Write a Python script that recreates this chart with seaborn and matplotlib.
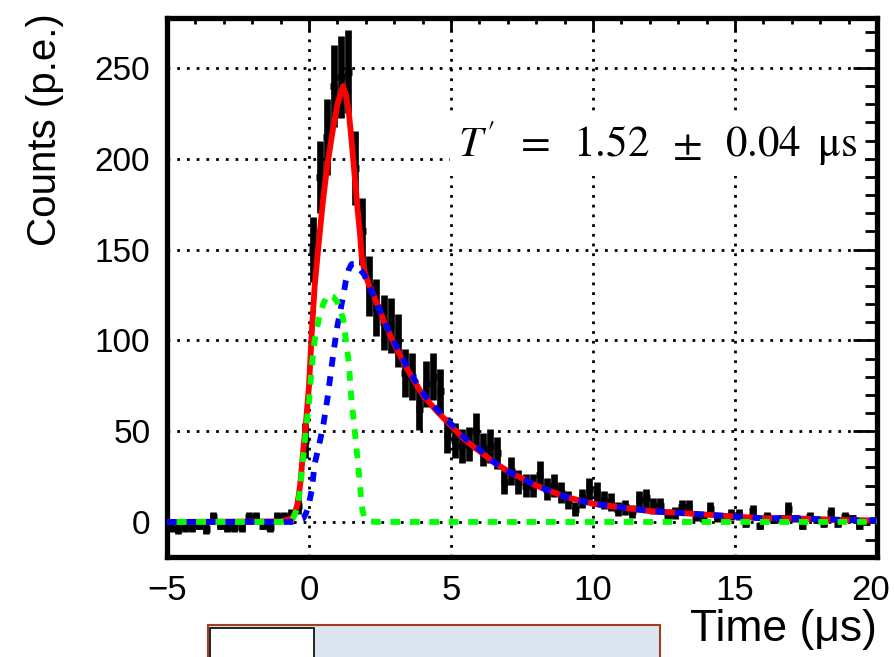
import numpy as np
import pandas as pd
import matplotlib
matplotlib.use("Agg")
import matplotlib.pyplot as plt
import seaborn as sns
from matplotlib.ticker import MultipleLocator
from matplotlib.patches import Rectangle
from matplotlib.transforms import ScaledTranslation

# ---------------- data ----------------
bin_start = -5.0
bin_width = 0.25
counts = [
    -3, -4, -3, -3, -2, -4, 3, -2, -3, -3,
    -3, 3, 3, -2, -3, 3, 3, 4, 9, 45,
    150, 190, 212, 240, 245, 248, 195, 160, 130, 118,
    110, 108, 100, 82, 80, 62, 76, 80, 72, 48,
    45, 42, 43, 50, 40, 42, 38, 22, 28, 22,
    20, 20, 26, 18, 20, 16, 12, 7, 13, 18,
    16, 12, 11, 7, 8, 6, 12, 13, 9, 9,
    4, 5, 8, 8, 3, 2, 7, 2, 1, 4,
    4, -1, 6, -2, 3, 1, 2, 7, 2, -2,
    3, 1, -1, 5, -1, 3, 2, -2, 0, 1,
]

fit_t = [-5, -1.0, -0.6, -0.5, -0.4, -0.3, -0.2, -0.1, 0.0, 0.1, 0.2, 0.35, 0.5,
         0.65, 0.85, 1.0, 1.2, 1.3, 1.4, 1.5, 1.6, 1.7, 1.8, 1.85, 1.95, 2.1, 2.35,
         2.6, 3.0, 3.5, 4.0, 4.5, 5.0, 5.5, 6.0, 6.5, 7.0, 7.5, 8.0, 8.5, 9.0, 9.5,
         10, 11, 12, 13, 14, 15, 16, 17, 18, 19, 20]
fit_total = [0, 0.3, 2, 5, 10, 22, 40, 56, 75, 105, 130, 155, 178,
             197, 217, 230, 240, 235, 226, 210, 192, 174, 158, 147, 138, 131, 122,
             112, 98, 83, 70, 61, 53, 45, 39, 33, 28, 24, 20, 17, 14, 12,
             10, 8, 6, 5, 4, 3, 2, 2, 1.5, 1, 0.8]
fit_slow = [0, 0, 0, 0.5, 1, 1.5, 2, 5, 10, 18, 32, 42, 53,
            68, 92, 108, 124, 133, 139, 142, 142, 141, 139, 138, 136, 130, 122,
            112, 99, 84, 71, 62, 54, 46, 40, 33, 28, 24, 20, 17, 14, 12,
            10, 8, 6, 5, 4, 3, 2, 2, 1.5, 1, 0.8]
fit_fast = [0, 0, 1, 4, 8, 20, 36, 52, 66, 86, 100, 112, 120,
            125, 124, 121, 112, 100, 88, 66, 52, 36, 20, 9, 2, 0.5, 0,
            0, 0, 0, 0, 0, 0, 0, 0, 0, 0, 0, 0, 0, 0, 0,
            0, 0, 0, 0, 0, 0, 0, 0, 0, 0, 0]

x_ticks = [-5, 0, 5, 10, 15, 20]
y_ticks = [0, 50, 100, 150, 200, 250]
annotation = r"$T'\;\;=\;\;1.52\;\;\pm\;\;0.04\;\;\mathrm{μs}$"

# ---------------- build tables ----------------
counts = np.asarray(counts, dtype=float)
centers = bin_start + bin_width * (np.arange(len(counts)) + 0.5)
errors = 1.45 * np.sqrt(np.clip(np.abs(counts), 1.0, None))
fits = pd.DataFrame({"t": fit_t, "total": fit_total, "slow": fit_slow, "fast": fit_fast})

# ---------------- style ----------------
sns.set_theme(style="white")
plt.rcParams["font.family"] = ["Liberation Sans", "DejaVu Sans"]
plt.rcParams["mathtext.fontset"] = "stix"
plt.rcParams["lines.scale_dashes"] = False
plt.rcParams["axes.unicode_minus"] = True

fig = plt.figure(figsize=(8.94, 6.57), dpi=100)
ax = fig.add_axes([167 / 894, 1 - 557 / 657, 710 / 894, 539 / 657])

# data histogram with error bars
ax.errorbar(centers, counts, xerr=bin_width / 2, yerr=errors, fmt="none",
            ecolor="black", elinewidth=4.8, capsize=0, zorder=3)

# fit components
sns.lineplot(data=fits, x="t", y="total", ax=ax, color="#ff0000", lw=4.2,
             zorder=4, estimator=None, sort=False)
sns.lineplot(data=fits, x="t", y="slow", ax=ax, color="#0000ff", lw=4.2,
             linestyle=(0, (7, 7)), zorder=5, estimator=None, sort=False)
sns.lineplot(data=fits, x="t", y="fast", ax=ax, color="#00ff00", lw=4.2,
             linestyle=(7, (7, 7)), zorder=6, estimator=None, sort=False)

ax.set_xlim(-5, 20)
ax.set_ylim(-19.3, 277.5)
ax.set_xticks(x_ticks)
ax.set_yticks(y_ticks)
ax.xaxis.set_minor_locator(MultipleLocator(1))
ax.yaxis.set_minor_locator(MultipleLocator(10))

ax.grid(True, which="major", color="black", linestyle=(0, (2, 5)), linewidth=2.0)
ax.set_axisbelow(True)

for s in ax.spines.values():
    s.set_color("black")
    s.set_linewidth(3.8)
    s.set_visible(True)

ax.tick_params(which="both", direction="in", top=True, right=True,
               color="black", width=2.0)
ax.tick_params(axis="x", which="major", length=10, pad=12, labelsize=25,
               labelcolor="black")
ax.tick_params(axis="x", which="minor", length=4)
ax.tick_params(axis="y", which="major", length=17, pad=12, labelsize=24,
               labelcolor="black")
ax.tick_params(axis="y", which="minor", length=9)
ax.set_xticklabels([str(v).replace("-", "\u2212") for v in x_ticks])
last = ax.xaxis.get_major_ticks()[-1].label1
last.set_transform(last.get_transform() + ScaledTranslation(-6 / 100, 0, fig.dpi_scale_trans))

ax.set_xlabel("Time (μs)", fontsize=32, loc="right", color="black", labelpad=2)
ax.set_ylabel("Counts (p.e.)", fontsize=29, loc="top", color="black")
ax.yaxis.set_label_coords(-0.145, 1.008)

fig.text(458 / 894, 1 - 157 / 657, annotation, fontsize=31, color="black",
         ha="left", va="baseline",
         bbox=dict(facecolor="white", edgecolor="none", pad=6))

# partial box visible under the frame
fig.patches.append(Rectangle((208 / 894, -0.01), 452 / 894, 0.01 + 32 / 657,
                             transform=fig.transFigure, facecolor="#dce6f2",
                             edgecolor="#a0401f", lw=1.5))
fig.patches.append(Rectangle((210 / 894, -0.01), 104 / 894, 0.01 + 29 / 657,
                             transform=fig.transFigure, facecolor="white",
                             edgecolor="black", lw=1.2))

fig.savefig("out.png", dpi=100, facecolor="white")
